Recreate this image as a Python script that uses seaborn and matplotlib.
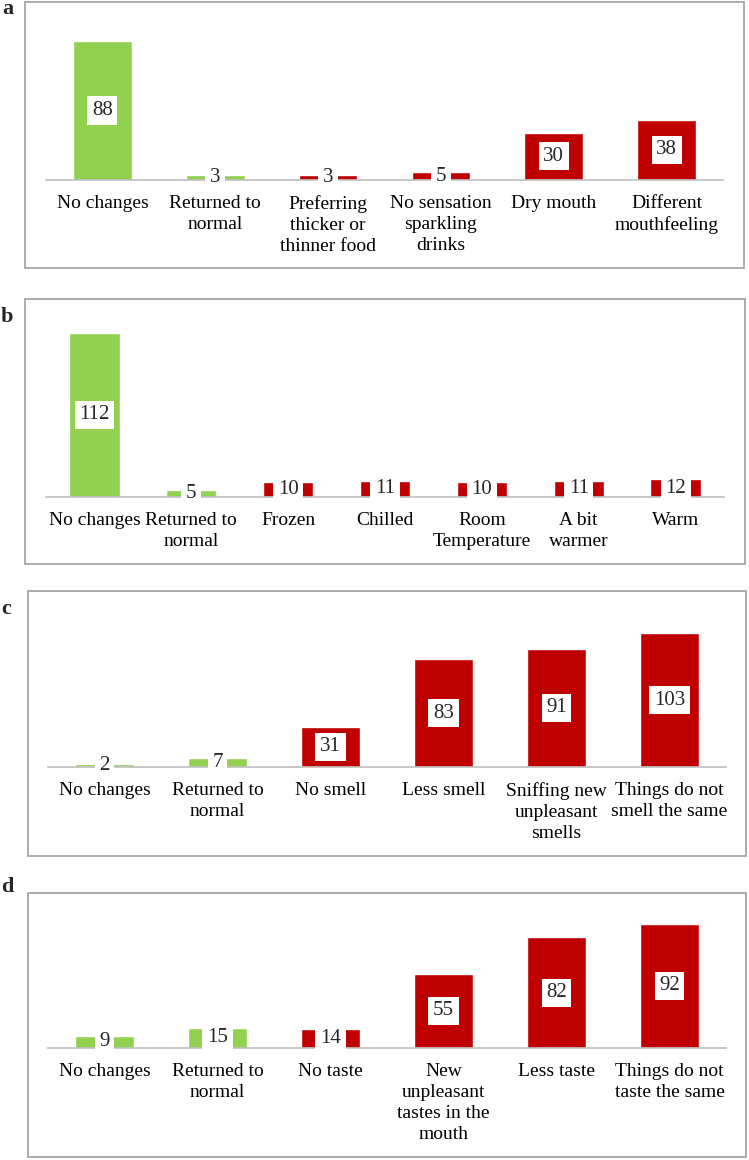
import matplotlib
matplotlib.use("Agg")
import matplotlib.pyplot as plt
from matplotlib.patches import Rectangle
import seaborn as sns
import pandas as pd

GREEN = "#92D050"
RED = "#C00000"

# panel a - mouthfeel
a_labels = ["No changes", "Returned to\nnormal", "Preferring\nthicker or\nthinner food",
            "No sensation\nsparkling\ndrinks", "Dry mouth", "Different\nmouthfeeling"]
a_values = [88, 3, 3, 5, 30, 38]
a_colors = [GREEN, GREEN, RED, RED, RED, RED]

# panel b - temperature
b_labels = ["No changes", "Returned to\nnormal", "Frozen", "Chilled",
            "Room\nTemperature", "A bit\nwarmer", "Warm"]
b_values = [112, 5, 10, 11, 10, 11, 12]
b_colors = [GREEN, GREEN, RED, RED, RED, RED, RED]

# panel c - smell
c_labels = ["No changes", "Returned to\nnormal", "No smell", "Less smell",
            "Sniffing new\nunpleasant\nsmells", "Things do not\nsmell the same"]
c_values = [2, 7, 31, 83, 91, 103]
c_colors = [GREEN, GREEN, RED, RED, RED, RED]

# panel d - taste
d_labels = ["No changes", "Returned to\nnormal", "No taste",
            "New\nunpleasant\ntastes in the\nmouth", "Less taste",
            "Things do not\ntaste the same"]
d_values = [9, 15, 14, 55, 82, 92]
d_colors = [GREEN, GREEN, RED, RED, RED, RED]

W, H = 749, 1160

sns.set_theme(style="white")
plt.rcParams['font.family'] = ['Liberation Serif', 'DejaVu Serif']

fig = plt.figure(figsize=(W / 100, H / 100), dpi=100)

# (letter, labels, values, colors, box px, letter px, axis x0, x1, baseline, top, ymax)
panels = [
    ("a", a_labels, a_values, a_colors, (25, 2, 744, 268), (2, 9), 46, 723, 180, 22, 100),
    ("b", b_labels, b_values, b_colors, (25, 299, 745, 564), (1, 317), 46, 724, 497, 321, 120),
    ("c", c_labels, c_values, c_colors, (28, 591, 746, 856), (1, 609), 48, 726, 767, 611, 120),
    ("d", d_labels, d_values, d_colors, (28, 893, 746, 1157), (1, 887), 48, 726, 1048, 913, 100),
]

for letter, labels, values, colors, box, lpos, x0, x1, yb, yt, ymax in panels:
    bx0, by0, bx1, by1 = box
    fig.add_artist(Rectangle((bx0 / W, 1 - by1 / H), (bx1 - bx0) / W, (by1 - by0) / H,
                             transform=fig.transFigure, fill=False,
                             edgecolor="#A6A6A6", linewidth=1.3))
    fig.text(lpos[0] / W, 1 - lpos[1] / H, letter, fontsize=16, fontweight="bold",
             ha="left", va="center")

    ax = fig.add_axes([x0 / W, 1 - yb / H, (x1 - x0) / W, (yb - yt) / H])
    df = pd.DataFrame({"cat": labels, "val": values})
    sns.barplot(data=df, x="cat", y="val", hue="cat", palette=dict(zip(labels, colors)),
                width=0.52, legend=False, ax=ax, saturation=1)
    ax.set_ylim(0, ymax)
    ax.set_xlim(-0.5, len(labels) - 0.5)
    ax.set_xlabel("")
    ax.set_ylabel("")
    ax.set_yticks([])
    ax.patch.set_alpha(0)
    for s in ["top", "left", "right"]:
        ax.spines[s].set_visible(False)
    ax.spines["bottom"].set_color("#BFBFBF")
    ax.spines["bottom"].set_linewidth(1.2)
    ax.tick_params(axis="x", length=0, pad=11, labelsize=14, colors="black")
    for lbl in ax.get_xticklabels():
        lbl.set_linespacing(1.3)
    for i, v in enumerate(values):
        ax.text(i, v / 2, str(v), ha="center", va="center", fontsize=15,
                bbox=dict(boxstyle="square,pad=0.22", facecolor="white", edgecolor="none"))

fig.savefig("out.png", dpi=100)
